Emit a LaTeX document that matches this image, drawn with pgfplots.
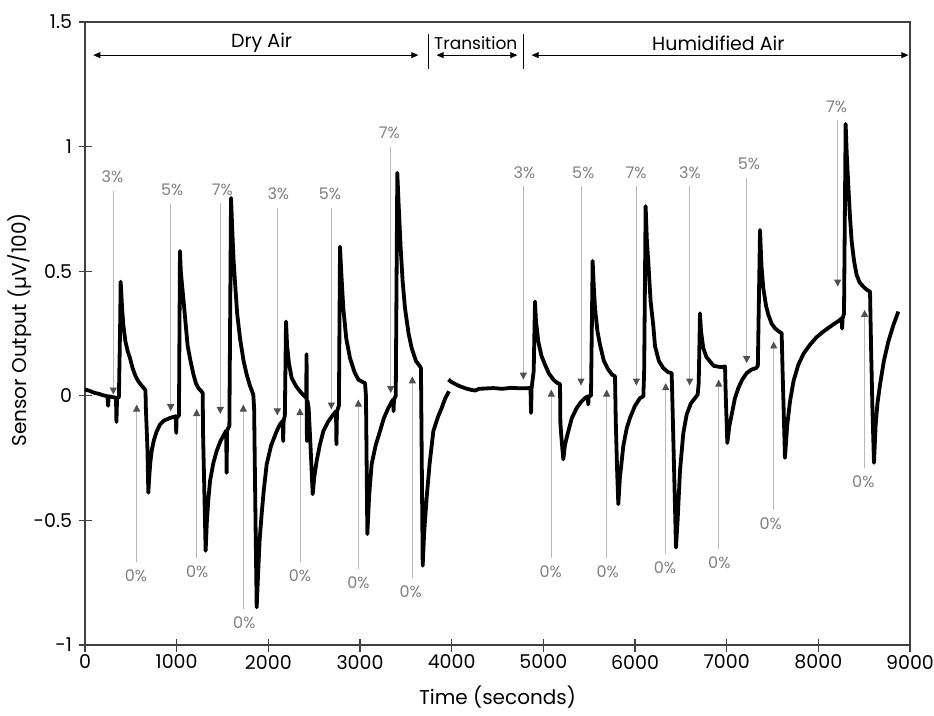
\documentclass[border=0pt]{standalone}
\usepackage{fontspec}
\setmainfont{Poppins}
\usepackage{pgfplots}
\pgfplotsset{compat=1.18}
\usetikzlibrary{arrows.meta}
\definecolor{axgray}{HTML}{404040}
\definecolor{arrline}{HTML}{B8B8B8}
\definecolor{arrtip}{HTML}{505050}
\definecolor{pctgray}{HTML}{808080}
\begin{document}
\begin{tikzpicture}[x=1pt,y=1pt]
\useasboundingbox (0,0) rectangle (934,715);
\begin{axis}[
  at={(85pt,70pt)}, anchor=south west,
  scale only axis, width=825pt, height=623pt,
  xmin=0, xmax=9000, ymin=-1, ymax=1.5,
  xtick={0,1000,2000,3000,4000,5000,6000,7000,8000,9000},
  xticklabels={0,1000,2000,3000,4000,5000,6000,7000,8000,9000},
  ytick={-1,-0.5,0,0.5,1,1.5},
  yticklabels={-1,-0.5,0,0.5,1,1.5},
  tick align=center, major tick length=13pt, tick pos=left,
  axis line style={axgray, line width=1.1pt},
  every tick/.style={axgray, line width=1.1pt},
  tick label style={font=\fontsize{19}{19}\selectfont, text=black},
  yticklabel style={xshift=-3pt},
  clip=false,
  after end axis/.code={
    % period arrows
    \draw[black, line width=0.8pt, {Triangle[length=7pt,width=6pt]}-{Triangle[length=7pt,width=6pt]}] (axis cs:91,1.367) -- (axis cs:3636,1.367);
    \draw[black, line width=0.8pt, {Triangle[length=7pt,width=6pt]}-{Triangle[length=7pt,width=6pt]}] (axis cs:3836,1.367) -- (axis cs:4716,1.367);
    \draw[black, line width=0.8pt, {Triangle[length=7pt,width=6pt]}-{Triangle[length=7pt,width=6pt]}] (axis cs:4873,1.367) -- (axis cs:8982,1.367);
    \draw[black, line width=0.8pt] (axis cs:3745,1.451) -- (axis cs:3745,1.311);
    \draw[black, line width=0.8pt] (axis cs:4782,1.451) -- (axis cs:4782,1.311);
    \node[font=\fontsize{19}{19}\selectfont] at (axis cs:1927,1.415) {Dry Air};
    \node[font=\fontsize{17}{17}\selectfont] at (axis cs:4263,1.415) {Transition};
    \node[font=\fontsize{19}{19}\selectfont] at (axis cs:6909,1.415) {Humidified Air};
    % gas switching arrows (down: x of line, x of label, label y, line top, tip)
    \foreach \lx/\tx/\lt/\lv/\ls/\tv in {
        309/300/3/0.878/0.823/0.005,
        935/952/5/0.825/0.770/-0.062,
        1476/1498/7/0.827/0.772/-0.073,
        2098/2109/3/0.809/0.754/-0.079,
        2687/2673/5/0.809/0.754/-0.055,
        3335/3320/7/1.054/0.999/0.011,
        4782/4793/3/0.895/0.840/0.065,
        5411/5436/5/0.895/0.840/0.041,
        6015/6011/7/0.895/0.840/0.041,
        6596/6600/3/0.895/0.840/0.041,
        7218/7244/5/0.929/0.874/0.131,
        8211/8200/7/1.161/1.106/0.438}{
      \draw[arrline, line width=0.9pt, -{Triangle[length=7pt,width=7pt,color=arrtip]}] (axis cs:\lx,\ls) -- (axis cs:\lx,\tv);
      \node[text=pctgray, font=\fontsize{16}{16}\selectfont] at (axis cs:\tx,\lv) {\lt\%};
    }
    \foreach \lx/\tx/\lv/\ls/\tv in {
        564/556/-0.722/-0.667/-0.035,
        1218/1225/-0.706/-0.651/-0.053,
        1727/1738/-0.909/-0.854/-0.035,
        2345/2345/-0.722/-0.667/-0.049,
        2982/2982/-0.751/-0.696/-0.015,
        3571/3553/-0.785/-0.730/0.078,
        5087/5080/-0.706/-0.651/0.025,
        5691/5702/-0.706/-0.651/0.025,
        6335/6327/-0.690/-0.635/0.051,
        6913/6920/-0.669/-0.614/0.065,
        7513/7480/-0.513/-0.458/0.218,
        8505/8491/-0.346/-0.291/0.345}{
      \draw[arrline, line width=0.9pt, -{Triangle[length=7pt,width=7pt,color=arrtip]}] (axis cs:\lx,\ls) -- (axis cs:\lx,\tv);
      \node[text=pctgray, font=\fontsize{16}{16}\selectfont] at (axis cs:\tx,\lv) {0\%};
    }
  },
]
% Dry air
\addplot[black, line width=3.8pt, line join=round] coordinates {
(0,0.025)(50,0.02)(100,0.012)(150,0.008)(200,0.002)(245,-0.002)(252,-0.04)(258,-0.002)
(300,-0.005)(338,-0.008)(343,-0.105)(350,-0.01)(370,-0.005)(384,0.3)(389,0.458)(395,0.42)
(405,0.35)(418,0.285)(440,0.22)(465,0.18)(491,0.151)(520,0.11)(550,0.08)(582,0.058)
(620,0.04)(655,0.025)(660,0.02)(664,-0.05)(680,-0.2)(691,-0.389)(700,-0.33)(712,-0.27)
(727,-0.222)(750,-0.18)(780,-0.145)(818,-0.115)(860,-0.1)(927,-0.089)(990,-0.082)(995,-0.149)
(1000,-0.085)(1025,-0.08)(1036,0.581)(1045,0.5)(1060,0.44)(1073,0.391)(1100,0.28)(1120,0.2)
(1145,0.151)(1180,0.09)(1210,0.05)(1236,0.031)(1270,0.018)(1284,0.011)(1288,-0.154)(1300,-0.35)
(1316,-0.622)(1330,-0.5)(1345,-0.42)(1364,-0.342)(1400,-0.27)(1436,-0.222)(1480,-0.18)(1527,-0.149)
(1540,-0.14)(1545,-0.309)(1550,-0.14)(1575,-0.12)(1593,0.794)(1605,0.68)(1620,0.55)(1636,0.458)
(1660,0.33)(1691,0.231)(1730,0.14)(1764,0.085)(1800,0.04)(1836,0.005)(1845,-0.05)(1860,-0.5)
(1873,-0.849)(1890,-0.7)(1905,-0.58)(1927,-0.475)(1950,-0.38)(1982,-0.275)(2030,-0.2)(2091,-0.142)
(2127,-0.115)(2158,-0.1)(2162,-0.182)(2167,-0.1)(2180,-0.08)(2193,0.298)(2205,0.2)(2225,0.13)
(2255,0.071)(2300,0.04)(2345,0.018)(2390,0.0)(2413,-0.009)(2417,0.167)(2421,-0.182)(2427,-0.02)
(2440,-0.05)(2460,-0.2)(2484,-0.395)(2500,-0.33)(2527,-0.262)(2560,-0.2)(2600,-0.142)(2650,-0.105)
(2709,-0.075)(2738,-0.062)(2743,-0.195)(2749,-0.062)(2770,-0.04)(2782,0.598)(2795,0.5)(2818,0.351)
(2850,0.23)(2891,0.151)(2940,0.095)(2982,0.065)(3030,0.055)(3055,0.051)(3065,0.0)(3080,-0.555)
(3100,-0.4)(3127,-0.275)(3170,-0.2)(3218,-0.142)(3260,-0.09)(3309,-0.049)(3345,-0.025)(3362,-0.015)
(3366,-0.062)(3371,-0.015)(3390,0.0)(3407,0.895)(3420,0.78)(3444,0.591)(3465,0.46)(3491,0.351)
(3530,0.25)(3564,0.191)(3610,0.14)(3655,0.118)(3665,0.11)(3670,-0.1)(3684,-0.682)(3700,-0.55)
(3727,-0.409)(3760,-0.27)(3800,-0.142)(3850,-0.085)(3891,-0.049)(3930,-0.01)(3971,0.018)
};
% Transition and humidified air
\addplot[black, line width=3.8pt, line join=round] coordinates {
(3964,0.065)(4000,0.055)(4050,0.045)(4091,0.038)(4150,0.03)(4200,0.025)(4255,0.021)(4300,0.028)
(4400,0.03)(4455,0.031)(4550,0.028)(4650,0.032)(4750,0.03)(4860,0.031)(4866,-0.069)(4872,0.03)
(4895,0.1)(4909,0.378)(4920,0.3)(4945,0.218)(4980,0.16)(5018,0.125)(5060,0.09)(5109,0.065)
(5150,0.052)(5182,0.047)(5186,-0.109)(5200,-0.18)(5218,-0.255)(5235,-0.2)(5250,-0.175)(5273,-0.142)
(5310,-0.09)(5364,-0.049)(5410,-0.025)(5455,-0.009)(5485,-0.002)(5490,-0.035)(5495,-0.002)(5520,0.0)
(5538,0.541)(5550,0.44)(5564,0.351)(5590,0.26)(5618,0.205)(5660,0.14)(5709,0.105)(5750,0.085)
(5782,0.078)(5790,-0.1)(5805,-0.3)(5818,-0.435)(5835,-0.33)(5873,-0.2)(5910,-0.13)(5945,-0.089)
(6000,-0.04)(6055,-0.009)(6091,-0.002)(6100,0.1)(6116,0.761)(6130,0.62)(6145,0.538)(6170,0.38)
(6200,0.28)(6218,0.2)(6260,0.14)(6309,0.111)(6360,0.095)(6400,0.091)(6410,-0.05)(6430,-0.35)
(6447,-0.609)(6465,-0.5)(6491,-0.3)(6527,-0.15)(6564,-0.075)(6610,-0.03)(6655,-0.009)(6684,0.005)
(6695,0.05)(6709,0.331)(6720,0.26)(6745,0.191)(6780,0.155)(6818,0.138)(6860,0.12)(6891,0.118)
(6940,0.115)(6982,0.118)(6990,0.0)(7007,-0.189)(7030,-0.12)(7055,-0.075)(7090,-0.01)(7127,0.031)
(7170,0.065)(7218,0.091)(7270,0.105)(7320,0.111)(7340,0.12)(7364,0.665)(7380,0.52)(7400,0.431)
(7430,0.36)(7455,0.325)(7490,0.29)(7527,0.271)(7570,0.258)(7600,0.251)(7610,0.1)(7625,-0.1)
(7636,-0.249)(7660,-0.12)(7691,-0.022)(7730,0.06)(7782,0.125)(7840,0.17)(7909,0.205)(7980,0.235)
(8055,0.258)(8120,0.275)(8182,0.291)(8220,0.3)(8255,0.311)(8260,0.27)(8265,0.311)(8280,0.33)
(8298,1.091)(8310,0.97)(8327,0.845)(8345,0.72)(8364,0.618)(8390,0.54)(8418,0.485)(8450,0.455)
(8491,0.438)(8530,0.425)(8564,0.418)(8575,0.2)(8590,-0.05)(8607,-0.269)(8625,-0.12)(8645,-0.03)
(8673,0.045)(8715,0.14)(8764,0.218)(8820,0.285)(8873,0.338)
};
\end{axis}
\node[font=\fontsize{20}{20}\selectfont] at (497.5,18) {Time (seconds)};
\node[font=\fontsize{20}{20}\selectfont, rotate=90] at (20,385) {Sensor Output (µV/100)};
\end{tikzpicture}
\end{document}
